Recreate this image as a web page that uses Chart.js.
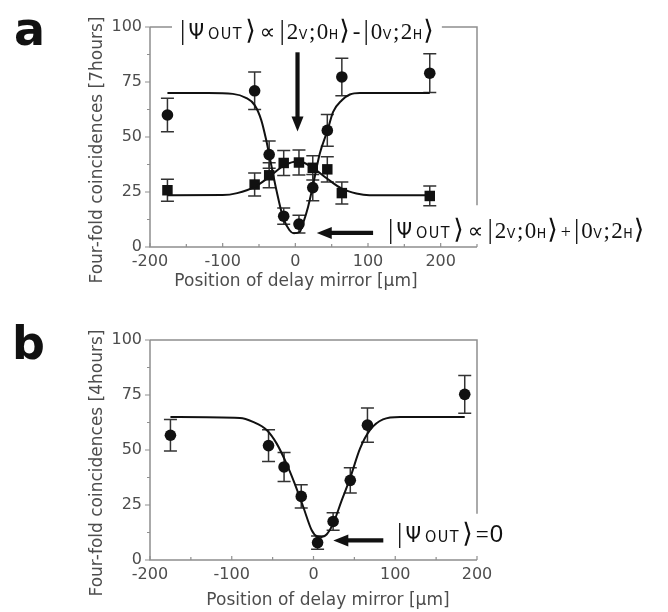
<!DOCTYPE html>
<html><head><meta charset="utf-8">
<script src="https://cdn.jsdelivr.net/npm/chart.js@4.4.0/dist/chart.umd.min.js"></script>
<style>
html,body{margin:0;padding:0;background:#fff;}
#wrap{position:relative;width:668px;height:612px;overflow:hidden;background:#fff;}
canvas{position:absolute;left:0;}
#ca{top:0;} #cb{top:305px;}
</style></head><body>
<div id="wrap"><canvas id="ca" width="668" height="305"></canvas><canvas id="cb" width="668" height="307"></canvas></div>
<script>
// ---------- DATA ----------
// Panel a: mirror positions [µm]
const posA = [-176, -56, -36, -16, 5, 24, 44, 64, 185];
// circles (|2V;0H> - |0V;2H> output) and their error bars
const circA = [60, 71, 42, 14, 10.4, 27, 53, 77.3, 79];
const circAErr = [7.6, 8.5, 6.2, 3.7, 4, 6, 7.2, 8.5, 8.8];
// squares (|2V;0H> + |0V;2H> output) and their error bars
const sqA = [25.8, 28.4, 32.6, 38.2, 38.4, 36, 35.3, 24.5, 23.2];
const sqAErr = [5, 5.2, 5.7, 5.7, 5.7, 5.5, 5.7, 5, 4.5];
// fitted curves of panel a
const fitACircX = [-176, -120, -86, -68, -56, -47, -40, -36, -26, -17, -8, -2, 6, 10.5, 17.5, 23.5, 33.6, 44.3, 52, 64, 75, 89, 120, 185];
const fitACircY = [70, 70, 69.6, 67.8, 64.5, 57.8, 48.5, 42, 25.8, 13.6, 7.6, 6.2, 6.8, 10.6, 18.2, 26.8, 42.4, 53, 61.4, 66.7, 69.3, 70, 70, 70];
const fitASqX = [-176, -100, -80, -56, -36, -16, 5, 24, 44, 64, 84, 102, 185];
const fitASqY = [23.5, 23.6, 24.5, 27.3, 31.8, 37, 39, 36, 31, 26.5, 24.3, 23.5, 23.5];
// Panel b
const posB = [-175, -55, -36, -15, 5, 24, 45, 66, 185];
const circB = [56.7, 52, 42.3, 28.9, 7.9, 17.5, 36.2, 61.3, 75.3];
const circBErr = [7.2, 7.2, 6.6, 5.3, 3, 4, 5.7, 7.8, 8.6];
const fitBX = [-175, -90, -74, -57, -45, -33, -23, -12.5, -2, 4, 10, 16, 24, 34.5, 44.6, 57, 69, 85, 106, 185];
const fitBY = [65, 64.6, 62.8, 59, 52.9, 43.8, 34.7, 24.1, 13.4, 10.8, 10.5, 11.6, 16.5, 27.1, 37, 50.7, 59, 63.9, 65, 65];
// ticks
const yTicks = [0, 25, 50, 75, 100];
const xTickLabels = [-200, -100, 0, 100, 200];
const xTitle = 'Position of delay mirror [\u03bcm]';
const yTitleA = 'Four-fold coincidences [7hours]';
const yTitleB = 'Four-fold coincidences [4hours]';

// ---------- styles ----------
const AXIS = '#8f8f8f', LABEL = '#4d4d4d', INK = '#111';
const TICKFONT = {family: '"DejaVu Sans", Verdana, sans-serif', size: 16};
const TITLEFONT = '17px "DejaVu Sans", Verdana, sans-serif';
const BARF = '27px "Liberation Serif", serif';
const PSIF = '22px "Liberation Sans Narrow", "DejaVu Sans Condensed", sans-serif';
const OUTF = '16px "Liberation Sans Narrow", "DejaVu Sans Condensed", sans-serif';
const ANGF = '27px "DejaVu Sans", "DejaVu Serif", sans-serif';
const SERF = '23px "Liberation Serif", serif';
const SUBF = '14px "Liberation Sans Narrow", "DejaVu Sans Condensed", sans-serif';
const PROPF = '22px "DejaVu Sans", sans-serif';

function pts(xs, ys) { return xs.map((x, i) => ({x: x, y: ys[i]})); }

function psiOut() {
  return [{t: '|', f: BARF}, {t: '\u03a8', f: PSIF, pre: 3}, {t: 'OUT', f: OUTF, pre: 4, ls: '1.5px'}, {t: '\u27e9', f: ANGF, pre: 2}];
}
function ket(a, sa, b, sb, pre) {
  return [{t: '|', f: BARF, pre: pre || 0}, {t: a, f: SERF, pre: 2}, {t: sa, f: SUBF, pre: 0.5}, {t: ';', f: SERF, pre: 1.5},
          {t: b, f: SERF, pre: 1.5}, {t: sb, f: SUBF, pre: 0.5}, {t: '\u27e9', f: ANGF, pre: 1}];
}
function runsWidth(ctx, runs) {
  let w = 0;
  for (const r of runs) { ctx.font = r.f; ctx.letterSpacing = r.ls || '0px'; w += (r.pre || 0) + ctx.measureText(r.t).width; }
  ctx.letterSpacing = '0px';
  return w;
}
function drawRuns(ctx, x, y, runs) {
  ctx.textAlign = 'left'; ctx.textBaseline = 'alphabetic';
  for (const r of runs) {
    ctx.font = r.f; ctx.letterSpacing = r.ls || '0px';
    x += (r.pre || 0);
    ctx.fillText(r.t, x, y);
    x += ctx.measureText(r.t).width;
  }
  ctx.letterSpacing = '0px';
  return x;
}
function arrow(ctx, x1, y1, x2, y2, shaft, headW, headL) {
  const dx = x2 - x1, dy = y2 - y1, L = Math.hypot(dx, dy), ux = dx / L, uy = dy / L;
  const bx = x2 - ux * headL, by = y2 - uy * headL;
  ctx.save();
  ctx.strokeStyle = INK; ctx.fillStyle = INK; ctx.lineWidth = shaft; ctx.lineCap = 'butt';
  ctx.beginPath(); ctx.moveTo(x1, y1); ctx.lineTo(bx + ux, by + uy); ctx.stroke();
  ctx.beginPath(); ctx.moveTo(x2, y2);
  ctx.lineTo(bx - uy * headW / 2, by + ux * headW / 2);
  ctx.lineTo(bx + uy * headW / 2, by - ux * headW / 2);
  ctx.closePath(); ctx.fill();
  ctx.restore();
}

function makeDecor(cfg) {
  return {
    id: 'decor',
    beforeDatasetsDraw(chart) {
      const ctx = chart.ctx, xs = chart.scales.x, ys = chart.scales.y;
      ctx.save();
      ctx.strokeStyle = '#333'; ctx.lineWidth = 1.5;
      chart.data.datasets.forEach(ds => {
        if (!ds.errors) return;
        ds.data.forEach((p, i) => {
          const px = xs.getPixelForValue(p.x);
          const t = ys.getPixelForValue(p.y + ds.errors[i]);
          const b = ys.getPixelForValue(p.y - ds.errors[i]);
          ctx.beginPath();
          ctx.moveTo(px, t); ctx.lineTo(px, b);
          ctx.moveTo(px - 6.5, t); ctx.lineTo(px + 6.5, t);
          ctx.moveTo(px - 6.5, b); ctx.lineTo(px + 6.5, b);
          ctx.stroke();
        });
      });
      ctx.restore();
    },
    afterDraw(chart) {
      const ctx = chart.ctx, xs = chart.scales.x, ys = chart.scales.y, ca = chart.chartArea;
      ctx.save();
      // frame: axes, top and right borders, tick marks
      ctx.strokeStyle = AXIS; ctx.lineWidth = 1.5;
      ctx.beginPath();
      ctx.moveTo(ca.left, ca.top); ctx.lineTo(ca.left, ca.bottom); ctx.lineTo(ca.right, ca.bottom);
      ctx.moveTo(ca.left, ca.top); ctx.lineTo(ca.right, ca.top);
      ctx.lineTo(ca.right, ys.getPixelForValue(cfg.rightEnd));
      ctx.stroke();
      ctx.lineWidth = 1.2;
      ctx.beginPath();
      for (let v = 0; v <= 100; v += 12.5) {
        const py = ys.getPixelForValue(v), len = (v % 25 === 0) ? 5 : 3;
        ctx.moveTo(ca.left - len, py); ctx.lineTo(ca.left, py);
      }
      for (let v = xs.min; v <= xs.max; v += 50) {
        const px = xs.getPixelForValue(v), len = (v % 100 === 0) ? 4 : 3;
        ctx.moveTo(px, ca.bottom); ctx.lineTo(px, ca.bottom - len);
      }
      ctx.stroke();
      // axis titles
      ctx.fillStyle = LABEL;
      ctx.font = TITLEFONT;
      ctx.textAlign = 'center'; ctx.textBaseline = 'alphabetic';
      ctx.fillText(xTitle, cfg.xTitleX, cfg.xTitleY);
      ctx.save();
      ctx.translate(cfg.yTitleX, cfg.yTitleY); ctx.rotate(-Math.PI / 2);
      ctx.fillText(cfg.yTitle, 0, 0);
      ctx.restore();
      // panel letter
      ctx.fillStyle = INK;
      ctx.font = 'bold 46px "DejaVu Sans", Verdana, sans-serif';
      ctx.textAlign = 'left';
      ctx.fillText(cfg.letter, cfg.letterX, cfg.letterY);
      // annotations
      cfg.texts.forEach(tx => {
        const w = runsWidth(ctx, tx.runs);
        if (tx.knockout) { ctx.fillStyle = '#fff'; ctx.fillRect(tx.x - 8, tx.y - 22, w + 16, 30); }
        ctx.fillStyle = INK;
        drawRuns(ctx, tx.x, tx.y, tx.runs);
      });
      cfg.arrows.forEach(a => {
        arrow(ctx, xs.getPixelForValue(a.from[0]), ys.getPixelForValue(a.from[1]),
              xs.getPixelForValue(a.to[0]), ys.getPixelForValue(a.to[1]), 4.2, 12, 15);
      });
      ctx.restore();
    }
  };
}

function makeChart(id, cfg) {
  const canvas = document.getElementById(id);
  return new Chart(canvas, {
    type: 'scatter',
    data: {datasets: cfg.datasets},
    options: {
      responsive: false, animation: false, devicePixelRatio: 1,
      layout: {padding: {left: 0, top: cfg.top, right: 191, bottom: 0}},
      plugins: {legend: {display: false}, tooltip: {enabled: false}},
      scales: {
        x: {
          type: 'linear', min: -200, max: cfg.xMax,
          grid: {display: false, drawTicks: false}, border: {display: false},
          ticks: {stepSize: 50, autoSkip: false, maxRotation: 0, padding: 5, color: LABEL, font: TICKFONT,
                  callback: v => xTickLabels.includes(v) ? String(v) : ''},
          afterFit: s => { s.height = cfg.xH; }
        },
        y: {
          type: 'linear', min: 0, max: 100,
          grid: {display: false, drawTicks: false}, border: {display: false},
          ticks: {stepSize: 25, padding: 8, color: LABEL, font: TICKFONT,
                  callback: v => yTicks.includes(v) ? String(v) : ''},
          afterFit: s => { s.width = 150; }
        }
      }
    },
    plugins: [makeDecor(cfg)]
  });
}

const lineDs = (xs, ys) => ({data: pts(xs, ys), showLine: true, borderColor: INK, borderWidth: 2,
  pointRadius: 0, cubicInterpolationMode: 'monotone', fill: false});
const markDs = (xs, ys, err, style, r) => ({data: pts(xs, ys), errors: err, showLine: false,
  pointStyle: style, pointRadius: r, backgroundColor: INK, borderColor: INK, borderWidth: 0});

makeChart('ca', {
  top: 27, xMax: 250, xH: 58, rightEnd: 19,
  datasets: [lineDs(fitACircX, fitACircY), lineDs(fitASqX, fitASqY),
             markDs(posA, circA, circAErr, 'circle', 5.8), markDs(posA, sqA, sqAErr, 'rect', 7.4)],
  xTitleX: 296, xTitleY: 286, yTitleX: 101.5, yTitleY: 150, yTitle: yTitleA,
  letter: 'a', letterX: 14, letterY: 45,
  texts: [
    {x: 180, y: 38.5, knockout: true,
     runs: [...psiOut(), {t: '\u221d', f: PROPF, pre: 4}, ...ket('2', 'V', '0', 'H', 4), {t: '-', f: SERF, pre: 3}, ...ket('0', 'V', '2', 'H', 3)]},
    {x: 388, y: 238.3,
     runs: [...psiOut(), {t: '\u221d', f: PROPF, pre: 4}, ...ket('2', 'V', '0', 'H', 4), {t: '+', f: '18px "Liberation Serif", serif', pre: 3}, ...ket('0', 'V', '2', 'H', 3)]}
  ],
  arrows: [{from: [3, 88.5], to: [3, 52.5]}, {from: [107, 6.4], to: [29.5, 6.4]}]
});

makeChart('cb', {
  top: 35, xMax: 200, xH: 52, rightEnd: 21,
  datasets: [lineDs(fitBX, fitBY), markDs(posB, circB, circBErr, 'circle', 5.8)],
  xTitleX: 328, xTitleY: 300, yTitleX: 101.5, yTitleY: 158, yTitle: yTitleB,
  letter: 'b', letterX: 12, letterY: 54,
  texts: [
    {x: 397, y: 236.7, runs: [...psiOut(), {t: '=', f: SERF, pre: 3}, {t: '0', f: '24px "Liberation Sans Narrow", sans-serif', pre: 1}]}
  ],
  arrows: [{from: [85.4, 8.9], to: [24.2, 8.9]}]
});
</script>
</body></html>
